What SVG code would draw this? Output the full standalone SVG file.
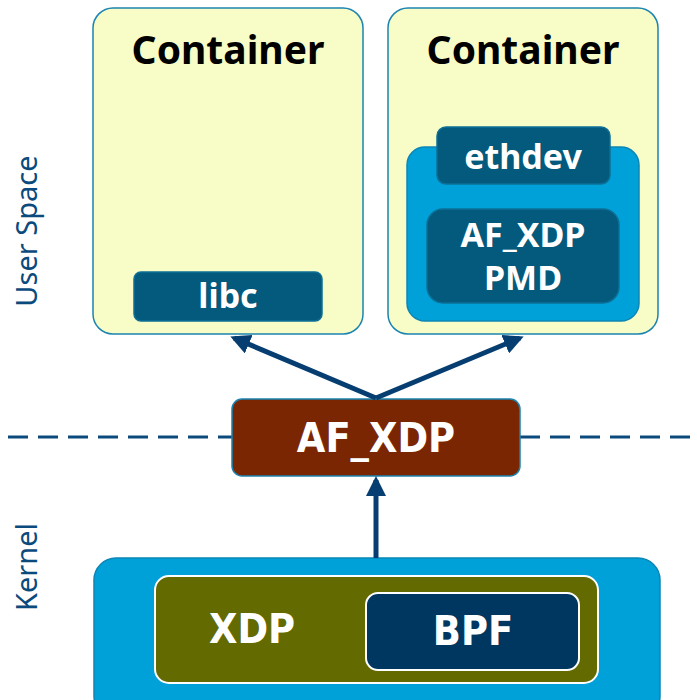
<svg xmlns="http://www.w3.org/2000/svg" width="697" height="700" viewBox="0 0 697 700">
  <defs>
    <style>
      .container { fill: #f8fcc6; stroke: #1b84b0; stroke-width: 1.5; }
      .teal { fill: #045a7c; stroke: #0c6f96; stroke-width: 1.5; }
      .cyan { fill: #00a1d8; stroke: #0c86b5; stroke-width: 1.5; }
      .title { font-family: "Noto Sans", "Open Sans", sans-serif; font-weight: bold; font-size: 39px; fill: #000; text-anchor: middle; }
      .lbl { font-family: "Noto Sans", "Open Sans", sans-serif; font-weight: bold; font-size: 34px; fill: #fff; text-anchor: middle; }
      .big { font-family: "DejaVu Sans Condensed", "Noto Sans", sans-serif; font-weight: bold; font-size: 41px; fill: #fff; text-anchor: middle; }
      .side { font-family: "Noto Sans", "Open Sans", sans-serif; font-size: 29px; fill: #0b4a7c; text-anchor: middle; }
      .conn { stroke: #073e72; stroke-width: 5; fill: none; }
    </style>
    <marker id="arrow" viewBox="0 0 10 10" refX="8" refY="5" markerWidth="4" markerHeight="4" orient="auto" markerUnits="strokeWidth">
      <path d="M0,0 L10,5 L0,10 z" fill="#073e72"/>
    </marker>
  </defs>

  <!-- side labels -->
  <text class="side" transform="translate(37,231) rotate(-90)">User Space</text>
  <text class="side" transform="translate(37,567) rotate(-90)">Kernel</text>

  <!-- user/kernel boundary -->
  <g id="boundary">
    <line x1="8" y1="437" x2="232" y2="437" stroke="#0d4a7c" stroke-width="3" stroke-dasharray="20 10"/>
    <line x1="520" y1="437" x2="697" y2="437" stroke="#0d4a7c" stroke-width="3" stroke-dasharray="20 10"/>
  </g>

  <g id="container-libc">
    <rect class="container" x="93" y="8" width="270" height="326" rx="20"/>
    <text class="title" x="228" y="64">Container</text>
    <g id="libc">
      <rect class="teal" x="134" y="272" width="188" height="49" rx="7"/>
      <text class="lbl" x="228" y="308">libc</text>
    </g>
  </g>

  <g id="container-dpdk">
    <rect class="container" x="388" y="8" width="270" height="326" rx="20"/>
    <text class="title" x="523" y="64">Container</text>
    <rect class="cyan" x="407" y="147" width="232" height="174" rx="18"/>
    <g id="ethdev">
      <rect class="teal" x="437" y="127" width="173" height="57" rx="9"/>
      <text class="lbl" x="523" y="169">ethdev</text>
    </g>
    <g id="pmd">
      <rect class="teal" x="427" y="209" width="192" height="94" rx="16"/>
      <text class="lbl" x="523" y="247">AF_XDP</text>
      <text class="lbl" x="523" y="290">PMD</text>
    </g>
  </g>

  <g id="af-xdp">
    <rect x="232" y="399" width="288" height="77" rx="10" fill="#7b2603" stroke="#1b84b0" stroke-width="1.5"/>
    <text class="big" x="376" y="452">AF_XDP</text>
  </g>

  <g id="kernel">
    <rect class="cyan" x="94" y="558" width="566" height="160" rx="22"/>
    <g id="xdp">
      <rect x="155" y="576" width="443" height="107" rx="14" fill="#626a00" stroke="#fff" stroke-width="2"/>
      <text class="big" x="252" y="643">XDP</text>
    </g>
    <g id="bpf">
      <rect x="366" y="593" width="213" height="77" rx="12" fill="#003760" stroke="#fff" stroke-width="2"/>
      <text class="big" x="473" y="645">BPF</text>
    </g>
  </g>

  <g id="connectors">
    <line class="conn" x1="376" y1="398" x2="234" y2="338" marker-end="url(#arrow)"/>
    <line class="conn" x1="376" y1="398" x2="520" y2="338" marker-end="url(#arrow)"/>
    <line class="conn" x1="376" y1="558" x2="376" y2="480" marker-end="url(#arrow)"/>
  </g>
</svg>
